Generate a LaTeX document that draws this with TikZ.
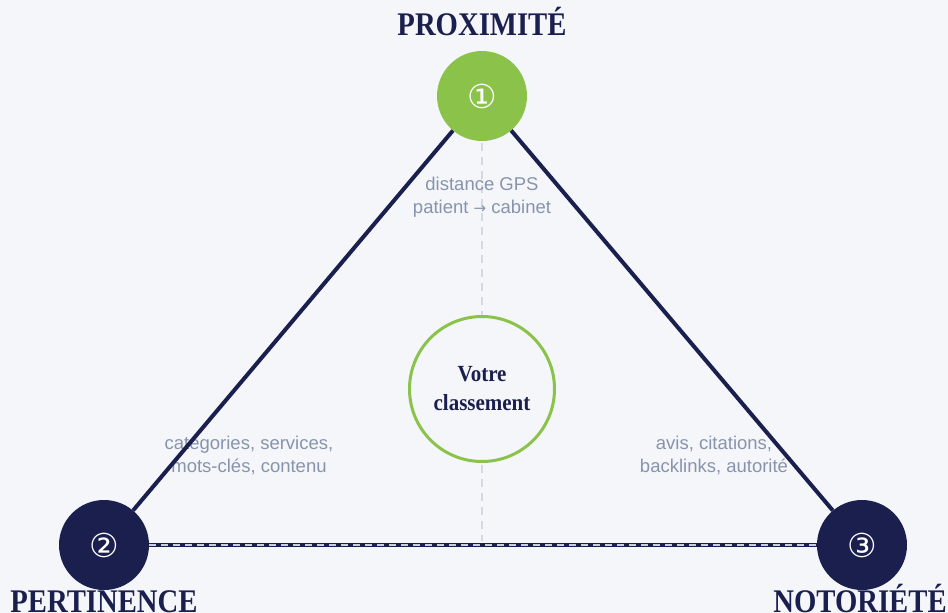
\documentclass[tikz,border=0pt]{standalone}
\usepackage{fontspec}
\newfontfamily\symfont{DejaVu Sans}
\newfontfamily\notefont{Liberation Sans}
\newfontfamily\headfont{Liberation Serif}
\definecolor{bgcol}{HTML}{F4F6FA}
\definecolor{navy}{HTML}{1B1F4E}
\definecolor{leaf}{HTML}{8BC34A}
\definecolor{notegray}{HTML}{8894AC}
\definecolor{guidecol}{HTML}{D2D9E4}
\definecolor{dashcol}{HTML}{C9D0E0}
\begin{document}
\begin{tikzpicture}[x=1pt,y=-1pt,
  hub/.style={circle, minimum size=90pt, inner sep=0pt, text=white,
    font=\symfont\fontsize{33}{33}\selectfont},
  heading/.style={text=navy, anchor=base, inner sep=0pt,
    font=\headfont\bfseries\fontsize{33}{33}\selectfont},
  note/.style={text=notegray, align=center, inner sep=0pt,
    font=\notefont\fontsize{18.5}{23}\selectfont},
  edge/.style={draw=navy, line width=4pt},
  edgedash/.style={draw=dashcol, line width=1.4pt, dash pattern=on 7pt off 5pt},
  guide/.style={draw=guidecol, line width=1.6pt, dash pattern=on 8pt off 6pt},
  core/.style={circle, draw=leaf, line width=3pt, fill=bgcol, minimum size=145pt,
    inner sep=0pt, align=center, text=navy,
    font=\headfont\bfseries\fontsize{21}{29}\selectfont}]
\fill[bgcol] (0,0) rectangle (948,613);
\useasboundingbox (0,0) rectangle (948,613);

% vertical guide through the middle
\coordinate (gtop) at (482,143);
\coordinate (gbot) at (482,541);
\draw[guide] (gtop) -- (gbot);

% central target
\node[core] (rank) at (482,389) {\scalebox{1}[1.1]{Votre}\\\scalebox{1}[1.1]{classement}};

% side notes
\node[note] (n1) at (482,197) {distance GPS\\patient {\symfont\fontsize{15}{15}\selectfont →} cabinet};
\node[note] (n2) at (249,455) {categories, services,\\mots-clés, contenu};
\node[note] (n3) at (714,455) {avis, citations,\\backlinks, autorité};

% the three factors
\node[hub, fill=leaf] (p) at (482,96) {①};
\node[hub, fill=navy] (r) at (104,545) {②};
\node[hub, fill=navy] (n) at (862,545) {③};

% triangle edges
\draw[edge] (p) -- (r);
\draw[edge] (p) -- (n);
\draw[edge] (r) -- (n);
\draw[edgedash] (r) -- (n);

% headings
\node[heading] (hp) at (482,35) {\scalebox{0.87}[1]{PROXIMITÉ}};
\node[heading] (hr) at (104,612) {\scalebox{0.87}[1]{PERTINENCE}};
\node[heading] (hn) at (860,612) {\scalebox{0.87}[1]{NOTORIÉTÉ}};
\end{tikzpicture}
\end{document}
